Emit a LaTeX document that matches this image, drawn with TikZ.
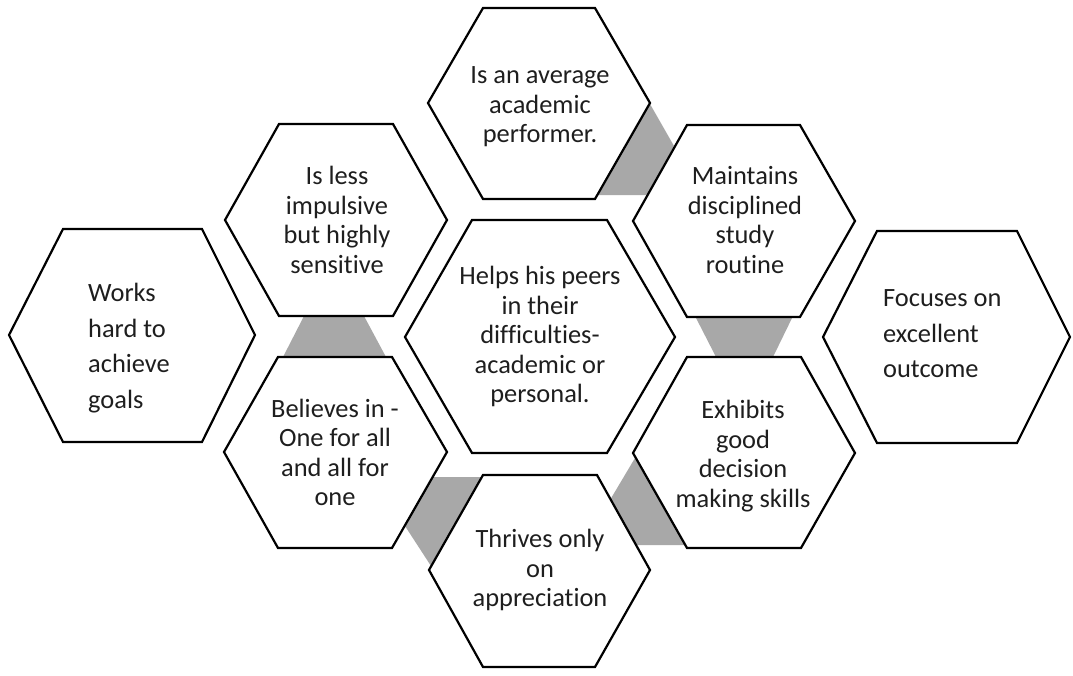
\documentclass[tikz,border=0pt]{standalone}
\usepackage{fontspec}
\setmainfont{Carlito}[Ligatures={NoCommon}]
\definecolor{linkgray}{RGB}{168,168,168}
\definecolor{txt}{RGB}{30,30,30}
\begin{document}
\begin{tikzpicture}[x=1pt,y=-1pt,
  hex/.style={draw=black,fill=white,line width=2.2pt,line join=miter},
  link/.style={fill=linkgray},
  lbl/.style={inner sep=0pt,align=center,text=txt,font=\fontsize{26.4}{29.5}\selectfont},
  lbll/.style={inner sep=0pt,align=left,text=txt,font=\fontsize{26.4}{35.5}\selectfont}]
\useasboundingbox (0,0) rectangle (1073,675);
% grey links
\fill[link] (650,104) -- (674,146) -- (647,195) -- (597,195) -- cycle;
\fill[link] (304,316) -- (364,316) -- (386,357) -- (283,357) -- cycle;
\fill[link] (695,316) -- (793,316) -- (773,357) -- (716,357) -- cycle;
\fill[link] (432,477) -- (482,477) -- (431,566) -- (405,526) -- cycle;
\fill[link] (635,458) -- (610,500) -- (636,545) -- (686,545) -- cycle;
% hexagons
\draw[hex] (428,103) -- (483,8) -- (595,8) -- (650,103) -- (595,199) -- (483,199) -- cycle;
\draw[hex] (633,221) -- (687,125) -- (800,125) -- (855,221) -- (800,317) -- (687,317) -- cycle;
\draw[hex] (225,220) -- (279,124) -- (393,124) -- (447,220) -- (393,316) -- (279,316) -- cycle;
\draw[hex] (405,337) -- (472,220) -- (607,220) -- (675,337) -- (607,453) -- (472,453) -- cycle;
\draw[hex] (9,335) -- (63,229) -- (202,229) -- (255,335) -- (202,442) -- (63,442) -- cycle;
\draw[hex] (823,337) -- (877,231) -- (1017,231) -- (1070,337) -- (1017,443) -- (877,443) -- cycle;
\draw[hex] (224,452) -- (278,357) -- (392,357) -- (447,452) -- (392,548) -- (278,548) -- cycle;
\draw[hex] (633,453) -- (687,357) -- (801,357) -- (855,453) -- (801,548) -- (687,548) -- cycle;
\draw[hex] (429,570) -- (483,475) -- (597,475) -- (650,570) -- (595,667) -- (483,667) -- cycle;
% labels
\node[lbl] (tA) at (540,107) {Is an average\\academic\\performer.};
\node[lbl] (tB) at (745,220) {Maintains\\disciplined\\study\\routine};
\node[lbl] (tC) at (337,220) {Is less\\impulsive\\but highly\\sensitive};
\node[lbl] (tD) at (540,336.5) {Helps his peers\\in their\\difficulties-\\academic or\\personal.};
\node[lbll,anchor=west] (tE) at (88,348) {Works\\hard to\\achieve\\goals};
\node[lbll,anchor=west] (tF) at (883,334) {Focuses on\\excellent\\outcome};
\node[lbl] (tG) at (335,452.5) {Believes in -\\One for all\\and all for\\one};
\node[lbl] (tH) at (743,456) {Exhibits\\good\\decision\\making skills};
\node[lbl] (tI) at (540,570) {Thrives only\\on\\appreciation};
\end{tikzpicture}
\end{document}
